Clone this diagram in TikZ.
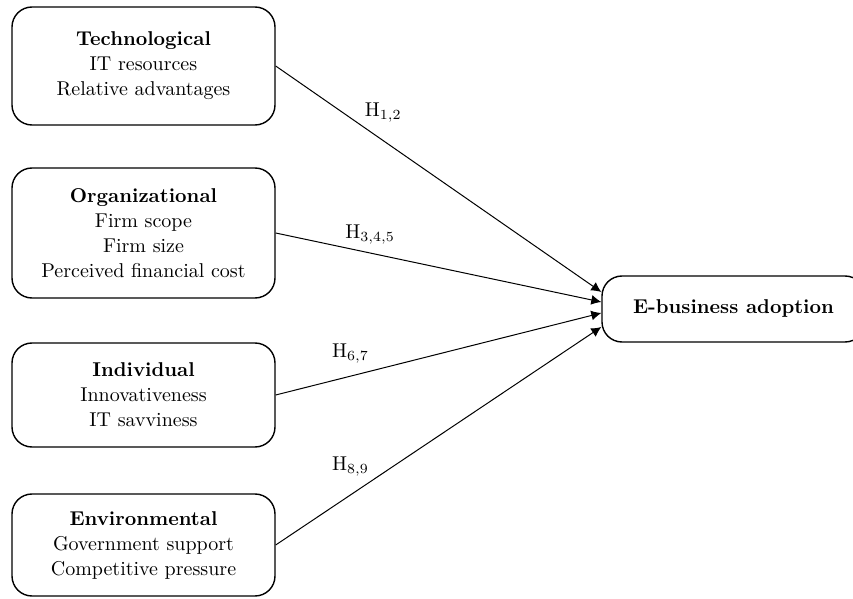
\documentclass[tikz,border=0pt]{standalone}
\usepackage{tikz}
\usetikzlibrary{arrows.meta, positioning}
\tikzstyle{factor} = [draw, rounded corners=10pt, line width=0.7pt, minimum width=131.5pt, align=center, inner sep=2pt, font=\fontsize{10}{12.5}\selectfont]
\tikzstyle{arrow} = [line width=0.5pt, -{Latex[length=5pt,width=5pt]}]
\tikzstyle{hyp} = [inner sep=0pt]

\begin{document}
\begin{tikzpicture}[x=0.5pt, y=-0.5pt]
    \useasboundingbox (0,0) rectangle (853,599);
    % determinants
    \node[factor, minimum height=59pt] (tech) at (143.5,66) {\textbf{Technological}\\IT resources\\Relative advantages};
    \node[factor, minimum height=65pt] (org) at (143.5,233) {\textbf{Organizational}\\Firm scope\\Firm size\\Perceived financial cost};
    \node[factor, minimum height=52pt] (indiv) at (143.5,395) {\textbf{Individual}\\Innovativeness\\IT savviness};
    \node[factor, minimum height=51pt] (env) at (143.5,545) {\textbf{Environmental}\\Government support\\Competitive pressure};
    % outcome
    \node[factor, minimum height=33pt] (ebiz) at (733.5,309) {\textbf{E-business adoption}};
    % hypotheses
    \draw[arrow] (tech.east) -- ([yshift=8.5pt]ebiz.west) node[hyp, pos=.33, yshift=14pt] {H$_{1,2}$};
    \draw[arrow] (org.east) -- ([yshift=3.5pt]ebiz.west) node[hyp, pos=.29, yshift=9pt] {H$_{3,4,5}$};
    \draw[arrow] (indiv.east) -- ([yshift=-2pt]ebiz.west) node[hyp, pos=.23, yshift=11.5pt] {H$_{6,7}$};
    \draw[arrow] (env.east) -- ([yshift=-9pt]ebiz.west) node[hyp, pos=.23, yshift=14pt] {H$_{8,9}$};
\end{tikzpicture}
\end{document}
